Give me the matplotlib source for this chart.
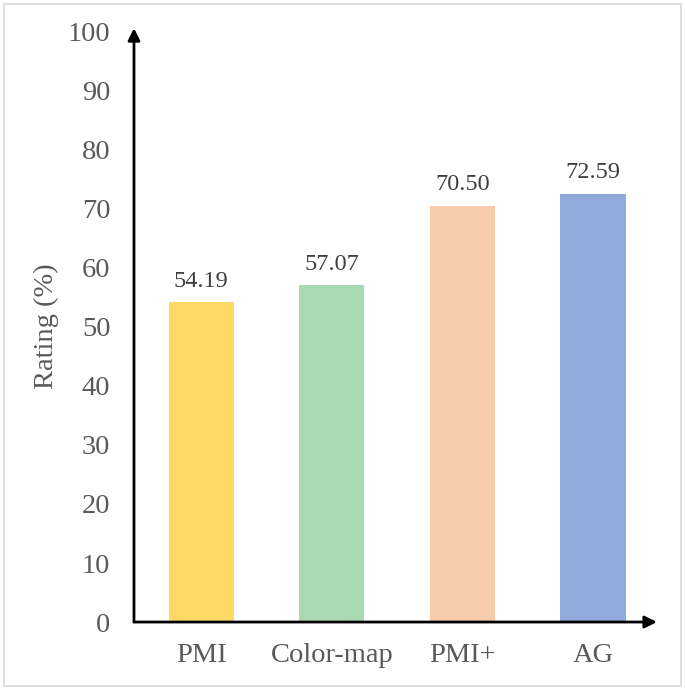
import matplotlib
matplotlib.use('Agg')
import matplotlib.pyplot as plt
from matplotlib.patches import Rectangle

# data
methods = ['PMI', 'Color-map', 'PMI+', 'AG']
ratings = [54.19, 57.07, 70.50, 72.59]
colors = ['#FFD966', '#A9D9B0', '#F8CBAD', '#8FAADC']
yticks = list(range(0, 101, 10))

plt.rcParams['font.family'] = ['Liberation Serif', 'DejaVu Serif']

fig = plt.figure(figsize=(6.85, 6.89), dpi=100)
ax = fig.add_axes([0.1956, 0.0972, 0.7634, 0.8593])

# light frame round the whole picture
fig.patches.append(Rectangle((0.006, 0.004), 0.988, 0.99, transform=fig.transFigure,
                             fill=False, edgecolor='#D9D9D9', lw=1.2))

x = range(len(methods))
bars = ax.bar(x, ratings, width=0.5, color=colors)
for b, v in zip(bars, ratings):
    ax.text(b.get_x() + b.get_width() / 2, v + 1.8, f'{v:.2f}', ha='center', va='bottom',
            fontsize=17.5, color='#404040')

ax.set_xlim(-0.515, 3.49)
ax.set_ylim(0, 100.3)
ax.set_yticks(yticks)
ax.set_xticks(list(x))
ax.set_xticklabels(methods)
ax.tick_params(axis='both', length=0, labelsize=20.5, labelcolor='#595959')
ax.tick_params(axis='y', pad=17)
ax.tick_params(axis='x', pad=15)
ax.set_ylabel('Rating (%)', fontsize=20.5, color='#595959', labelpad=6)

for s in ax.spines.values():
    s.set_visible(False)

# axes with arrow heads
arrow = dict(arrowstyle='-|>', lw=2, color='black', mutation_scale=18, shrinkA=0, shrinkB=0)
ax.annotate('', xy=(0, 1.003), xytext=(0, 0), xycoords='axes fraction', arrowprops=arrow)
ax.annotate('', xy=(1.0, 0), xytext=(0, 0), xycoords='axes fraction', arrowprops=arrow)

fig.savefig('out.png', dpi=100)
